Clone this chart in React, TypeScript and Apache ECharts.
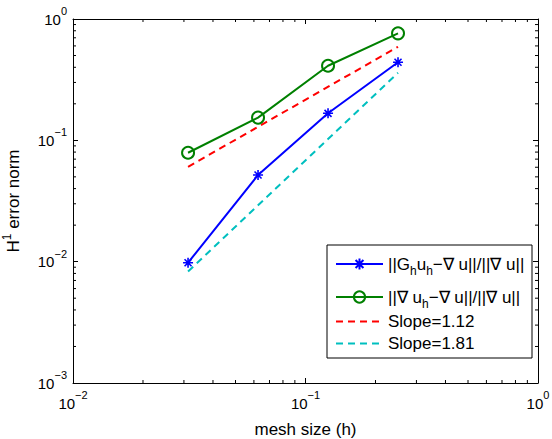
import { useEffect, useRef } from 'react';
import * as echarts from 'echarts';

const meshSizes = [0.03125, 0.0625, 0.125, 0.25];
const recoveredError = [0.0098, 0.0518, 0.167, 0.44];
const gradientError = [0.079, 0.154, 0.412, 0.762];
const slopeLineX = [0.03125, 0.25];
const slope112Y = [0.0605, 0.59];
const slope181Y = [0.0083, 0.36];
const xDecades = [0.01, 0.1];
const yDecades = [0.001, 0.01, 0.1];
const minorFactors = [2, 3, 4, 5, 6, 7, 8, 9];
const seriesNames = ['recovered', 'gradient', 'slope112', 'slope181'];
const legendLabels: Record<string, string> = {
  recovered: '{b|||G}{sub|h}{b|u}{sub|h}{b|−∇ u||/||∇ u||}',
  gradient: '{b|||∇ u}{sub|h}{b|−∇ u||/||∇ u||}',
  slope112: '{b|Slope=1.12}',
  slope181: '{b|Slope=1.81}',
};
const xTitle = 'mesh size (h)';
const yTitle = '{t|H}{tsup|1}{t| error norm}';

const FONT = '"Liberation Sans", Arial, Helvetica, sans-serif';
const FS = 15;
const TFS = 17;

const supRich = {
  b: { fontSize: FS, lineHeight: 24, fontFamily: FONT, color: '#000' },
  sup: { fontSize: 11, lineHeight: 8, padding: [0, 0, 16, 0], fontFamily: FONT, color: '#000' },
};
const titleRich = {
  t: { fontSize: TFS, lineHeight: 22, fontFamily: FONT, color: '#000' },
  tsup: { fontSize: 12, lineHeight: 8, padding: [0, 0, 14, 0], fontFamily: FONT, color: '#000' },
};
const subRich = {
  b: { fontSize: TFS, lineHeight: 20, fontFamily: FONT, color: '#000' },
  sub: { fontSize: 12, lineHeight: 10, padding: [14, 0, 0, 0], fontFamily: FONT, color: '#000' },
};

function powLabel(v: number) {
  const e = Math.round(Math.log10(v));
  return `{b|10}{sup|${String(e).replace('-', '−')}}`;
}

export default function App() {
  const ref = useRef<HTMLDivElement>(null);
  useEffect(() => {
    if (!ref.current) return;
    const chart = echarts.init(ref.current, null, { renderer: 'svg' });
    const minorData = [
      ...xDecades.flatMap((d) => minorFactors.map((f) => [d * f, 0.001, 0])),
      ...yDecades.flatMap((d) => minorFactors.map((f) => [0.01, d * f, 1])),
    ];
    const axisCommon = {
      axisLine: { show: true, lineStyle: { color: '#000', width: 1 } },
      axisTick: { show: true, inside: true, length: 5, lineStyle: { color: '#000' } },
      splitLine: { show: false },
    };
    const legendRows = [263, 296, 323, 345];
    const legendHeights = [24, 24, 20, 20];
    const option: any = {
      animation: false,
      backgroundColor: '#fff',
      grid: { left: 73, right: 14, top: 19, bottom: 56, containLabel: false, outerBoundsMode: 'none' },
      xAxis: [
        {
          type: 'log', logBase: 10, min: 0.01, max: 1, position: 'bottom',
          ...axisCommon,
          axisLabel: { margin: 8, formatter: powLabel, rich: supRich },
          name: xTitle, nameLocation: 'middle', nameGap: 31,
          nameTextStyle: { fontSize: TFS, fontFamily: FONT, color: '#000' },
        },
        {
          type: 'log', logBase: 10, min: 0.01, max: 1, position: 'top',
          ...axisCommon, axisLabel: { show: false },
        },
      ],
      yAxis: [
        {
          type: 'log', logBase: 10, min: 0.001, max: 1, position: 'left',
          ...axisCommon,
          axisLabel: { margin: 6, formatter: powLabel, rich: supRich },
          name: yTitle, nameLocation: 'middle', nameGap: 48, nameRotate: 90,
          nameTextStyle: { rich: titleRich, fontSize: TFS, fontFamily: FONT, color: '#000' },
        },
        {
          type: 'log', logBase: 10, min: 0.001, max: 1, position: 'right',
          ...axisCommon, axisLabel: { show: false },
        },
      ],
      graphic: [
        {
          type: 'rect', z: 3, shape: { x: 327, y: 245, width: 205, height: 113 },
          style: { fill: '#fff', stroke: '#000', lineWidth: 1 },
        },
      ],
      legend: seriesNames.map((n, i) => ({
        data: [n], orient: 'vertical', left: 335, top: legendRows[i] - legendHeights[i] / 2, padding: 0,
        itemWidth: 47, itemHeight: 14, itemGap: 0, z: 5,
        formatter: (name: string) => legendLabels[name],
        textStyle: { rich: subRich, fontSize: TFS, fontFamily: FONT, color: '#000' },
        selectedMode: false,
        ...(i >= 2 ? { itemStyle: { color: 'rgba(0,0,0,0)', borderWidth: 0 } } : {}),
      })),
      series: [
        {
          name: 'recovered', type: 'line',
          data: meshSizes.map((x, i) => [x, recoveredError[i]]),
          lineStyle: { color: '#0000ff', width: 2 },
          symbol: 'path://M10,0L10,20M0,10L20,10M3,3L17,17M3,17L17,3',
          symbolSize: 10,
          itemStyle: { color: '#0000ff', borderColor: '#0000ff', borderWidth: 1.6 },
          z: 4,
        },
        {
          name: 'gradient', type: 'line',
          data: meshSizes.map((x, i) => [x, gradientError[i]]),
          lineStyle: { color: '#008000', width: 2 },
          symbol: 'circle', symbolSize: 12,
          itemStyle: { color: 'rgba(255,255,255,0)', borderColor: '#008000', borderWidth: 2 },
          z: 4,
        },
        {
          name: 'slope112', type: 'line',
          data: slopeLineX.map((x, i) => [x, slope112Y[i]]),
          lineStyle: { color: '#ff0000', width: 2, type: [7, 5] },
          itemStyle: { color: '#ff0000' },
          symbol: 'none', z: 3,
        },
        {
          name: 'slope181', type: 'line',
          data: slopeLineX.map((x, i) => [x, slope181Y[i]]),
          lineStyle: { color: '#00bfbf', width: 2, type: [7, 5] },
          itemStyle: { color: '#00bfbf' },
          symbol: 'none', z: 3,
        },
        {
          name: 'minorTicks', type: 'custom', silent: true,
          xAxisIndex: 0, yAxisIndex: 0,
          data: minorData,
          encode: { x: 0, y: 1 },
          renderItem: (_p: any, api: any) => {
            const kind = api.value(2);
            const st = { stroke: '#000', lineWidth: 1 };
            if (kind === 0) {
              const b = api.coord([api.value(0), 0.001]);
              const t = api.coord([api.value(0), 1]);
              return {
                type: 'group',
                children: [
                  { type: 'line', shape: { x1: b[0], y1: b[1], x2: b[0], y2: b[1] - 3 }, style: st },
                  { type: 'line', shape: { x1: t[0], y1: t[1], x2: t[0], y2: t[1] + 3 }, style: st },
                ],
              };
            }
            const l = api.coord([0.01, api.value(1)]);
            const r = api.coord([1, api.value(1)]);
            return {
              type: 'group',
              children: [
                { type: 'line', shape: { x1: l[0], y1: l[1], x2: l[0] + 3, y2: l[1] }, style: st },
                { type: 'line', shape: { x1: r[0], y1: r[1], x2: r[0] - 3, y2: r[1] }, style: st },
              ],
            };
          },
        },
      ],
    };
    chart.setOption(option);
    return () => chart.dispose();
  }, []);
  return <div ref={ref} style={{ position: 'fixed', left: 0, top: 0, width: 552, height: 439 }} />;
}
